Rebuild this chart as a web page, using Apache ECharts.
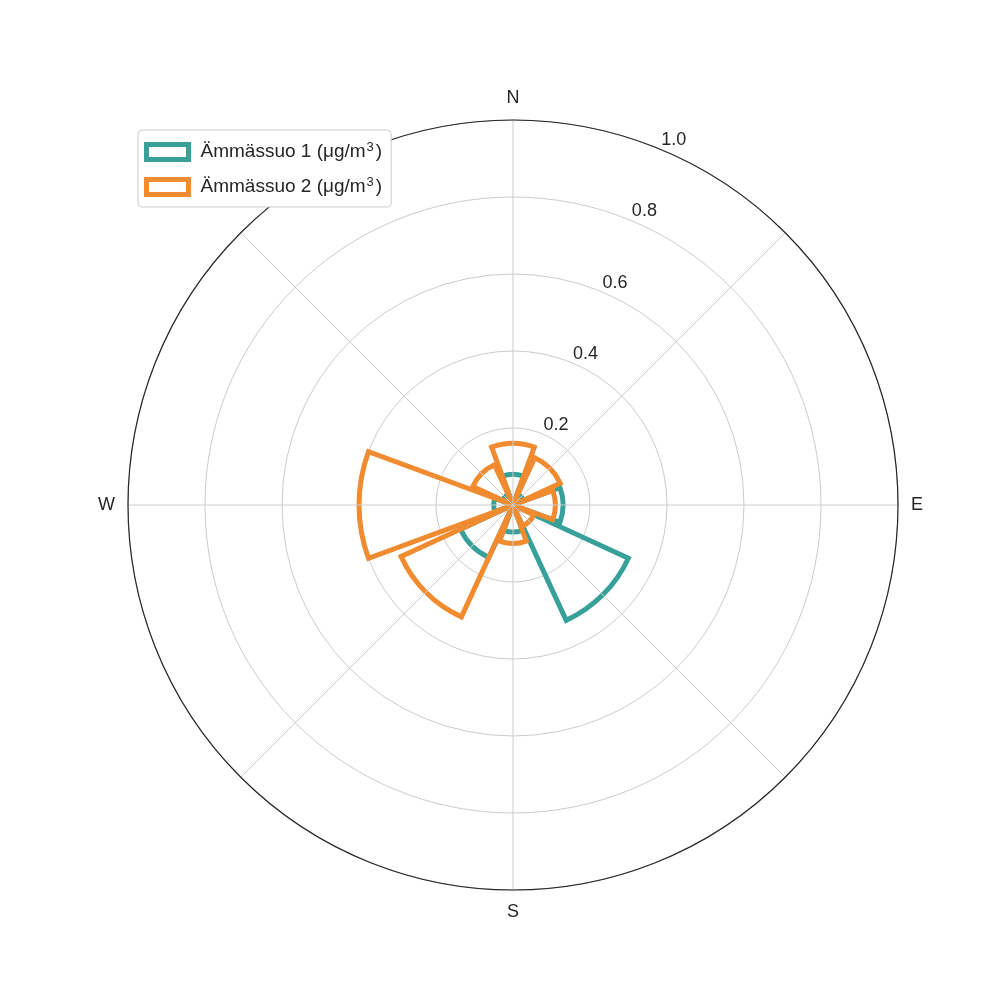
<!DOCTYPE html>
<html>
<head>
<meta charset="utf-8">
<script src="https://cdn.jsdelivr.net/npm/echarts@6/dist/echarts.min.js"></script>
<style>html,body{margin:0;padding:0;background:#fff;}#main{width:1000px;height:1000px;}</style>
</head>
<body>
<div id="main"></div>
<script>
// Wind direction sectors (8 bins, clockwise from north)
var directions = ['N', 'NE', 'E', 'SE', 'S', 'SW', 'W', 'NW'];
// Concentrations (µg/m³) per direction
var site1Name = 'Ämmässuo 1 (μg/m3)';
var site2Name = 'Ämmässuo 2 (μg/m3)';
var site1Values = [0.08, 0.03, 0.13, 0.33, 0.07, 0.15, 0.05, 0.03];
var site2Values = [0.16, 0.135, 0.11, 0.06, 0.10, 0.32, 0.40, 0.115];
// Radial ticks and compass labels
var radialTicks = [0, 0.2, 0.4, 0.6, 0.8, 1.0];
var compassLabels = {0: 'N', 90: 'E', 180: 'S', 270: 'W'};

var TEAL = '#37a199';
var ORANGE = '#f08b30';
var FONT = 'Liberation Sans, Arial, sans-serif';
var CENTER = [513, 505];
var RADIUS = 385;

var chart = echarts.init(document.getElementById('main'), null, {renderer: 'canvas'});

function legendFmt(name) {
  var base = name.replace(/3\)$/, '');
  return '{a0|' + base + '}{sup|3}{a|)}';
}

var option = {
  backgroundColor: '#ffffff',
  animation: false,
  polar: [
    {center: CENTER, radius: RADIUS},
    {center: CENTER, radius: RADIUS},
    {center: CENTER, radius: RADIUS}
  ],
  angleAxis: [
    {
      polarIndex: 0, type: 'category', data: directions, startAngle: 112.5, clockwise: true,
      axisLine: {show: false}, axisTick: {show: false}, axisLabel: {show: false}, splitLine: {show: false}
    },
    {
      polarIndex: 1, type: 'value', min: 0, max: 360, interval: 45, startAngle: 90, clockwise: true, z: 3,
      axisLine: {show: true, lineStyle: {color: '#262626', width: 1.2}},
      axisTick: {show: false},
      axisLabel: {
        show: true, margin: 13, color: '#262626', fontSize: 18, fontFamily: FONT,
        formatter: function (v) { return compassLabels[v] || ''; }
      },
      splitLine: {show: true, lineStyle: {color: '#cccccc', width: 1}}
    },
    {
      polarIndex: 2, type: 'value', min: 0, max: 360, startAngle: 67.5, clockwise: true,
      axisLine: {show: false}, axisTick: {show: false}, axisLabel: {show: false}, splitLine: {show: false}
    }
  ],
  radiusAxis: [
    {polarIndex: 0, type: 'value', min: 0, max: 1, axisLine: {show: false}, axisTick: {show: false}, axisLabel: {show: false}, splitLine: {show: false}},
    {
      polarIndex: 1, type: 'value', min: radialTicks[0], max: radialTicks[radialTicks.length - 1], interval: 0.2,
      axisLine: {show: false}, axisTick: {show: false}, axisLabel: {show: false},
      splitLine: {show: true, lineStyle: {color: '#cccccc', width: 1}}
    },
    {
      polarIndex: 2, type: 'value', min: radialTicks[0], max: radialTicks[radialTicks.length - 1], interval: 0.2, z: 4,
      axisLine: {show: false}, axisTick: {show: false}, splitLine: {show: false},
      axisLabel: {
        show: true, margin: 0, rotate: 0, align: 'left', verticalAlign: 'bottom',
        color: '#262626', fontSize: 18, fontFamily: FONT, padding: [0, 0, 0, 1],
        formatter: function (v) { return v === 0 ? '' : v.toFixed(1); }
      }
    }
  ],
  legend: {
    orient: 'vertical', left: 138, top: 130,
    padding: [11, 9, 9, 6], itemGap: 13,
    itemWidth: 42, itemHeight: 15, itemTextGap: 10,
    backgroundColor: '#ffffff', borderColor: '#cccccc', borderWidth: 1, borderRadius: 4,
    icon: 'rect',
    itemStyle: {color: '#ffffff', borderWidth: 5},
    formatter: legendFmt,
    textStyle: {
      color: '#262626', fontSize: 19, fontFamily: FONT,
      rich: {
        a0: {fontSize: 19, fontFamily: FONT, color: '#262626', lineHeight: 22, padding: [0, 0, 0, 7]},
        a: {fontSize: 19, fontFamily: FONT, color: '#262626', lineHeight: 22},
        sup: {fontSize: 13, fontFamily: FONT, color: '#262626', verticalAlign: 'top', lineHeight: 22, padding: [0, 2, 9, 1]}
      }
    },
    data: [site1Name, site2Name]
  },
  series: [
    {
      name: site1Name, type: 'bar', coordinateSystem: 'polar', polarIndex: 0,
      data: site1Values, barGap: '-100%', barCategoryGap: '10%',
      itemStyle: {color: 'rgba(0,0,0,0)', borderColor: TEAL, borderWidth: 5}
    },
    {
      name: site2Name, type: 'bar', coordinateSystem: 'polar', polarIndex: 0,
      data: site2Values, barGap: '-100%', barCategoryGap: '10%',
      itemStyle: {color: 'rgba(0,0,0,0)', borderColor: ORANGE, borderWidth: 5}
    }
  ]
};
chart.setOption(option);
</script>
</body>
</html>
